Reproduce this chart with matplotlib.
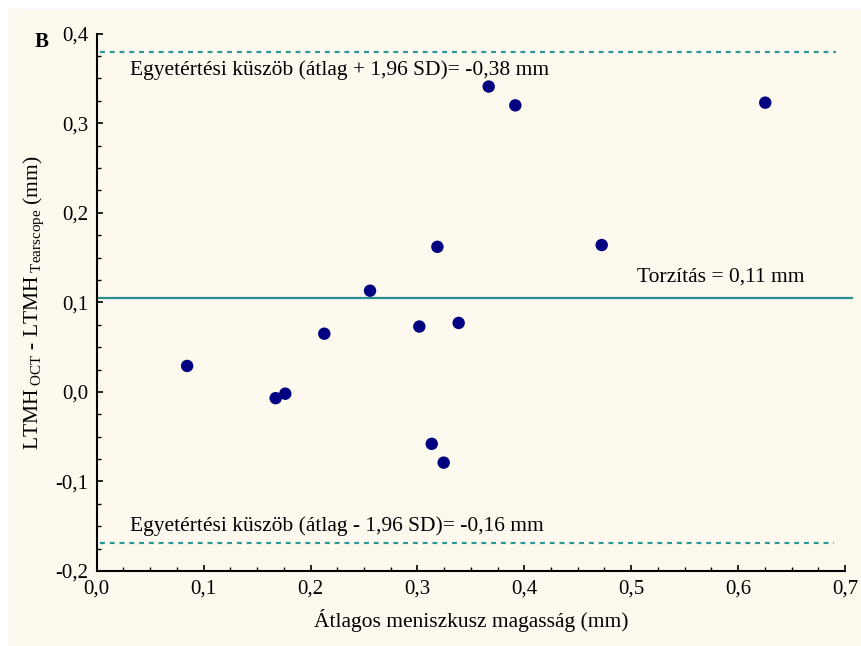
import matplotlib
matplotlib.use("Agg")
import matplotlib.pyplot as plt
from matplotlib.ticker import MultipleLocator, FuncFormatter
from matplotlib.patches import Rectangle

plt.rcParams['font.family'] = ['Liberation Serif', 'DejaVu Serif']
plt.rcParams['mathtext.fontset'] = 'custom'
plt.rcParams['mathtext.rm'] = 'Liberation Serif'
plt.rcParams['mathtext.it'] = 'Liberation Serif:italic'
plt.rcParams['mathtext.bf'] = 'Liberation Serif:bold'

# Data
mean_height = [0.0846, 0.1674, 0.1764, 0.2129, 0.2557, 0.3018, 0.3134,
               0.3187, 0.3246, 0.3386, 0.3667, 0.3916, 0.4724, 0.6254]
difference = [0.029, -0.007, -0.002, 0.065, 0.113, 0.073, -0.058,
              0.162, -0.079, 0.077, 0.341, 0.320, 0.164, 0.323]
upper_loa = 0.380
lower_loa = -0.169
bias = 0.1045

x_ticks = [0.0, 0.1, 0.2, 0.3, 0.4, 0.5, 0.6, 0.7]
y_ticks = [-0.2, -0.1, 0.0, 0.1, 0.2, 0.3, 0.4]

upper_text = "Egyetértési küszöb (átlag + 1,96 SD)= -0,38 mm"
lower_text = "Egyetértési küszöb (átlag - 1,96 SD)= -0,16 mm"
bias_text = "Torzítás = 0,11 mm"
xlabel = "Átlagos meniszkusz magasság (mm)"
ylabel = r"LTMH$_{\mathrm{\ OCT}}$ - LTMH$_{\mathrm{\ Tearscope}}$ (mm)"

FS = 15.5
W, H = 862, 646
fig = plt.figure(figsize=(W / 100, H / 100), dpi=100)
fig.patch.set_facecolor('white')
bg = '#FEF9EF'
fig.patches.append(Rectangle((8 / W, 0), 1 - 8 / W, 1 - 9 / H, transform=fig.transFigure,
                             facecolor=bg, edgecolor='none', zorder=-10))

ax = fig.add_axes([96.7 / W, 1 - 571 / H, (845 - 96.7) / W, (571 - 33.7) / H])
ax.set_facecolor('none')
ax.set_xlim(0, 0.7)
ax.set_ylim(-0.2, 0.4)

teal = '#2A9696'
ax.axhline(upper_loa, xmin=0.005, xmax=0.988, color=teal, lw=1.6, linestyle=(0, (2.2, 2.2)), zorder=2)
ax.axhline(lower_loa, xmin=0.005, xmax=0.985, color=teal, lw=1.6, linestyle=(0, (2.2, 2.2)), zorder=2)
ax.plot([0, 0.707], [bias, bias], color='#2A8C8C', lw=1.6, clip_on=False, zorder=2)

ax.scatter(mean_height, difference, s=80, color='#000080', edgecolors='none', zorder=3)

for s in ['top', 'right']:
    ax.spines[s].set_visible(False)
for s in ['left', 'bottom']:
    ax.spines[s].set_linewidth(1.5)
    ax.spines[s].set_color('black')

ax.set_xticks(x_ticks)
ax.set_yticks(y_ticks)
ax.xaxis.set_minor_locator(MultipleLocator(0.025))
ax.yaxis.set_minor_locator(MultipleLocator(0.025))
fmt = FuncFormatter(lambda v, p: f"{v:.1f}".replace('.', ',').replace('\u2212', '-'))
ax.xaxis.set_major_formatter(fmt)
ax.yaxis.set_major_formatter(fmt)
ax.tick_params(which='major', direction='in', length=4, width=1.2, labelsize=15, pad=6)
ax.tick_params(which='minor', direction='in', length=3, width=1.0)

ax.set_xlabel(xlabel, fontsize=FS, labelpad=8)
ax.set_ylabel(ylabel, fontsize=FS, labelpad=7)

ax.text(130 / W, 1 - 70 / H, upper_text, transform=fig.transFigure, fontsize=FS, va='center', ha='left')
ax.text(130 / W, 1 - 526 / H, lower_text, transform=fig.transFigure, fontsize=FS, va='center', ha='left')
ax.text(637 / W, 1 - 277 / H, bias_text, transform=fig.transFigure, fontsize=FS, va='center', ha='left')
fig.text(35 / W, 1 - 42 / H, "B", fontsize=15, fontweight='bold', va='center', ha='left')

fig.savefig('out.png', dpi=100, facecolor=fig.get_facecolor())
